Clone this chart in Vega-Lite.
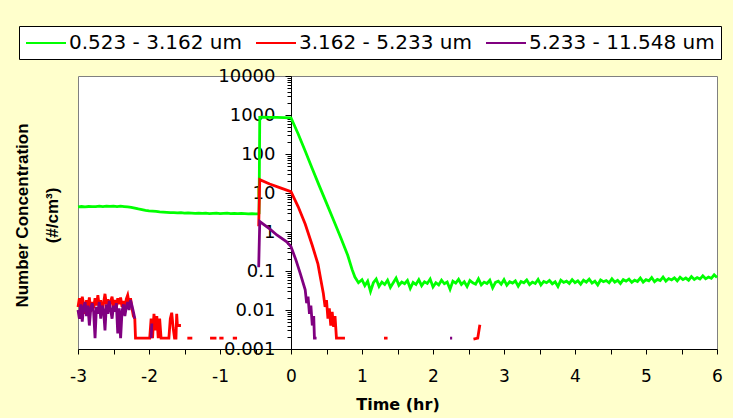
{
"$schema": "https://vega.github.io/schema/vega-lite/v6.json",
"width": 639, "height": 273,
"autosize": {"type": "none"},
"padding": {"left": 78, "top": 76, "right": 16, "bottom": 69},
"background": "#FFFFCC",
"config": {"view": {"stroke": "#808080", "fill": "white", "strokeWidth": 1}, "font": "Liberation Sans"},
"data": {"values": [
{"s":"G","k":"G1","t":-3,"v":4.4},{"s":"G","k":"G1","t":-2.95,"v":4.5},{"s":"G","k":"G1","t":-2.9,"v":4.4},{"s":"G","k":"G1","t":-2.85,"v":4.5},{"s":"G","k":"G1","t":-2.8,"v":4.45},{"s":"G","k":"G1","t":-2.75,"v":4.5},{"s":"G","k":"G1","t":-2.7,"v":4.6},{"s":"G","k":"G1","t":-2.65,"v":4.5},{"s":"G","k":"G1","t":-2.6,"v":4.6},{"s":"G","k":"G1","t":-2.55,"v":4.55},{"s":"G","k":"G1","t":-2.5,"v":4.6},{"s":"G","k":"G1","t":-2.45,"v":4.5},{"s":"G","k":"G1","t":-2.4,"v":4.6},{"s":"G","k":"G1","t":-2.35,"v":4.5},{"s":"G","k":"G1","t":-2.3,"v":4.4},{"s":"G","k":"G1","t":-2.25,"v":4.3},{"s":"G","k":"G1","t":-2.2,"v":4.1},{"s":"G","k":"G1","t":-2.15,"v":3.9},{"s":"G","k":"G1","t":-2.1,"v":3.75},{"s":"G","k":"G1","t":-2.05,"v":3.6},{"s":"G","k":"G1","t":-2,"v":3.5},{"s":"G","k":"G1","t":-1.95,"v":3.45},{"s":"G","k":"G1","t":-1.9,"v":3.4},{"s":"G","k":"G1","t":-1.85,"v":3.3},{"s":"G","k":"G1","t":-1.8,"v":3.25},{"s":"G","k":"G1","t":-1.75,"v":3.2},{"s":"G","k":"G1","t":-1.7,"v":3.15},{"s":"G","k":"G1","t":-1.65,"v":3.15},{"s":"G","k":"G1","t":-1.6,"v":3.1},{"s":"G","k":"G1","t":-1.55,"v":3.15},{"s":"G","k":"G1","t":-1.5,"v":3.05},{"s":"G","k":"G1","t":-1.45,"v":3.1},{"s":"G","k":"G1","t":-1.4,"v":3.05},{"s":"G","k":"G1","t":-1.35,"v":3.0},{"s":"G","k":"G1","t":-1.3,"v":3.05},{"s":"G","k":"G1","t":-1.25,"v":3.0},{"s":"G","k":"G1","t":-1.2,"v":3.05},{"s":"G","k":"G1","t":-1.15,"v":2.95},{"s":"G","k":"G1","t":-1.1,"v":3.0},{"s":"G","k":"G1","t":-1.05,"v":3.05},{"s":"G","k":"G1","t":-1,"v":2.95},{"s":"G","k":"G1","t":-0.95,"v":3.0},{"s":"G","k":"G1","t":-0.9,"v":3.05},{"s":"G","k":"G1","t":-0.85,"v":2.95},{"s":"G","k":"G1","t":-0.8,"v":3.0},{"s":"G","k":"G1","t":-0.75,"v":2.95},{"s":"G","k":"G1","t":-0.7,"v":3.0},{"s":"G","k":"G1","t":-0.65,"v":2.95},{"s":"G","k":"G1","t":-0.6,"v":2.9},{"s":"G","k":"G1","t":-0.55,"v":2.95},{"s":"G","k":"G1","t":-0.5,"v":2.9},{"s":"G","k":"G1","t":-0.46,"v":2.9},{"s":"G","k":"G1","t":-0.45,"v":3.0},{"s":"G","k":"G1","t":-0.44,"v":870},{"s":"G","k":"G1","t":-0.4,"v":880},{"s":"G","k":"G1","t":-0.3,"v":870},{"s":"G","k":"G1","t":-0.2,"v":865},{"s":"G","k":"G1","t":-0.1,"v":860},{"s":"G","k":"G1","t":0,"v":850},{"s":"G","k":"G1","t":0.1,"v":330},{"s":"G","k":"G1","t":0.2,"v":120},{"s":"G","k":"G1","t":0.3,"v":42},{"s":"G","k":"G1","t":0.4,"v":15},{"s":"G","k":"G1","t":0.5,"v":5.5},{"s":"G","k":"G1","t":0.6,"v":2.0},{"s":"G","k":"G1","t":0.7,"v":0.72},{"s":"G","k":"G1","t":0.8,"v":0.25},{"s":"G","k":"G1","t":0.86,"v":0.11},{"s":"G","k":"G1","t":0.9,"v":0.07},{"s":"G","k":"G1","t":0.95,"v":0.05},
{"s":"G","k":"G1","t":1.0,"v":0.06},{"s":"G","k":"G1","t":1.04,"v":0.042},{"s":"G","k":"G1","t":1.08,"v":0.055},{"s":"G","k":"G1","t":1.12,"v":0.03},{"s":"G","k":"G1","t":1.16,"v":0.05},{"s":"G","k":"G1","t":1.2,"v":0.062},{"s":"G","k":"G1","t":1.24,"v":0.04},{"s":"G","k":"G1","t":1.28,"v":0.052},{"s":"G","k":"G1","t":1.32,"v":0.045},{"s":"G","k":"G1","t":1.36,"v":0.058},{"s":"G","k":"G1","t":1.4,"v":0.038},{"s":"G","k":"G1","t":1.44,"v":0.05},{"s":"G","k":"G1","t":1.48,"v":0.066},{"s":"G","k":"G1","t":1.52,"v":0.043},{"s":"G","k":"G1","t":1.56,"v":0.052},{"s":"G","k":"G1","t":1.6,"v":0.047},{"s":"G","k":"G1","t":1.64,"v":0.057},{"s":"G","k":"G1","t":1.68,"v":0.036},{"s":"G","k":"G1","t":1.72,"v":0.051},{"s":"G","k":"G1","t":1.76,"v":0.045},{"s":"G","k":"G1","t":1.8,"v":0.06},{"s":"G","k":"G1","t":1.84,"v":0.042},{"s":"G","k":"G1","t":1.88,"v":0.053},{"s":"G","k":"G1","t":1.92,"v":0.048},{"s":"G","k":"G1","t":1.96,"v":0.062},{"s":"G","k":"G1","t":2.0,"v":0.039},{"s":"G","k":"G1","t":2.04,"v":0.05},{"s":"G","k":"G1","t":2.08,"v":0.044},{"s":"G","k":"G1","t":2.12,"v":0.058},{"s":"G","k":"G1","t":2.16,"v":0.047},{"s":"G","k":"G1","t":2.2,"v":0.052},{"s":"G","k":"G1","t":2.24,"v":0.034},{"s":"G","k":"G1","t":2.28,"v":0.055},{"s":"G","k":"G1","t":2.32,"v":0.049},{"s":"G","k":"G1","t":2.36,"v":0.061},{"s":"G","k":"G1","t":2.4,"v":0.045},{"s":"G","k":"G1","t":2.44,"v":0.053},{"s":"G","k":"G1","t":2.48,"v":0.04},{"s":"G","k":"G1","t":2.52,"v":0.057},{"s":"G","k":"G1","t":2.56,"v":0.05},{"s":"G","k":"G1","t":2.6,"v":0.046},{"s":"G","k":"G1","t":2.64,"v":0.063},{"s":"G","k":"G1","t":2.68,"v":0.044},{"s":"G","k":"G1","t":2.72,"v":0.052},{"s":"G","k":"G1","t":2.76,"v":0.048},{"s":"G","k":"G1","t":2.8,"v":0.058},{"s":"G","k":"G1","t":2.84,"v":0.037},{"s":"G","k":"G1","t":2.88,"v":0.051},{"s":"G","k":"G1","t":2.92,"v":0.055},{"s":"G","k":"G1","t":2.96,"v":0.046},{"s":"G","k":"G1","t":3.0,"v":0.06},{"s":"G","k":"G1","t":3.04,"v":0.043},{"s":"G","k":"G1","t":3.08,"v":0.053},{"s":"G","k":"G1","t":3.12,"v":0.049},{"s":"G","k":"G1","t":3.16,"v":0.056},{"s":"G","k":"G1","t":3.2,"v":0.041},{"s":"G","k":"G1","t":3.24,"v":0.054},{"s":"G","k":"G1","t":3.28,"v":0.05},{"s":"G","k":"G1","t":3.32,"v":0.059},{"s":"G","k":"G1","t":3.36,"v":0.045},{"s":"G","k":"G1","t":3.4,"v":0.052},{"s":"G","k":"G1","t":3.44,"v":0.048},{"s":"G","k":"G1","t":3.48,"v":0.061},{"s":"G","k":"G1","t":3.52,"v":0.044},{"s":"G","k":"G1","t":3.56,"v":0.054},{"s":"G","k":"G1","t":3.6,"v":0.05},{"s":"G","k":"G1","t":3.64,"v":0.057},{"s":"G","k":"G1","t":3.68,"v":0.047},{"s":"G","k":"G1","t":3.72,"v":0.053},{"s":"G","k":"G1","t":3.76,"v":0.04},{"s":"G","k":"G1","t":3.8,"v":0.058},{"s":"G","k":"G1","t":3.84,"v":0.051},{"s":"G","k":"G1","t":3.88,"v":0.055},{"s":"G","k":"G1","t":3.92,"v":0.048},{"s":"G","k":"G1","t":3.96,"v":0.06},{"s":"G","k":"G1","t":4.0,"v":0.05},{"s":"G","k":"G1","t":4.04,"v":0.056},{"s":"G","k":"G1","t":4.08,"v":0.046},{"s":"G","k":"G1","t":4.12,"v":0.058},{"s":"G","k":"G1","t":4.16,"v":0.052},{"s":"G","k":"G1","t":4.2,"v":0.062},{"s":"G","k":"G1","t":4.24,"v":0.049},{"s":"G","k":"G1","t":4.28,"v":0.055},{"s":"G","k":"G1","t":4.32,"v":0.044},{"s":"G","k":"G1","t":4.36,"v":0.059},{"s":"G","k":"G1","t":4.4,"v":0.053},{"s":"G","k":"G1","t":4.44,"v":0.057},{"s":"G","k":"G1","t":4.48,"v":0.05},{"s":"G","k":"G1","t":4.52,"v":0.063},{"s":"G","k":"G1","t":4.56,"v":0.052},{"s":"G","k":"G1","t":4.6,"v":0.058},{"s":"G","k":"G1","t":4.64,"v":0.048},{"s":"G","k":"G1","t":4.68,"v":0.06},{"s":"G","k":"G1","t":4.72,"v":0.055},{"s":"G","k":"G1","t":4.76,"v":0.062},{"s":"G","k":"G1","t":4.8,"v":0.051},{"s":"G","k":"G1","t":4.84,"v":0.058},{"s":"G","k":"G1","t":4.88,"v":0.054},{"s":"G","k":"G1","t":4.92,"v":0.066},{"s":"G","k":"G1","t":4.96,"v":0.052},{"s":"G","k":"G1","t":5.0,"v":0.06},{"s":"G","k":"G1","t":5.04,"v":0.056},{"s":"G","k":"G1","t":5.08,"v":0.068},{"s":"G","k":"G1","t":5.12,"v":0.053},{"s":"G","k":"G1","t":5.16,"v":0.061},{"s":"G","k":"G1","t":5.2,"v":0.057},{"s":"G","k":"G1","t":5.24,"v":0.07},{"s":"G","k":"G1","t":5.28,"v":0.055},{"s":"G","k":"G1","t":5.32,"v":0.064},{"s":"G","k":"G1","t":5.36,"v":0.059},{"s":"G","k":"G1","t":5.4,"v":0.067},{"s":"G","k":"G1","t":5.44,"v":0.056},{"s":"G","k":"G1","t":5.48,"v":0.069},{"s":"G","k":"G1","t":5.52,"v":0.06},{"s":"G","k":"G1","t":5.56,"v":0.066},{"s":"G","k":"G1","t":5.6,"v":0.058},{"s":"G","k":"G1","t":5.64,"v":0.072},{"s":"G","k":"G1","t":5.68,"v":0.061},{"s":"G","k":"G1","t":5.72,"v":0.068},{"s":"G","k":"G1","t":5.76,"v":0.062},{"s":"G","k":"G1","t":5.8,"v":0.075},{"s":"G","k":"G1","t":5.84,"v":0.063},{"s":"G","k":"G1","t":5.88,"v":0.07},{"s":"G","k":"G1","t":5.92,"v":0.065},{"s":"G","k":"G1","t":5.96,"v":0.08},{"s":"G","k":"G1","t":6.0,"v":0.068},
{"s":"R","k":"R1","t":-3,"v":0.012},{"s":"R","k":"R1","t":-2.98,"v":0.02},{"s":"R","k":"R1","t":-2.96,"v":0.01},{"s":"R","k":"R1","t":-2.94,"v":0.022},{"s":"R","k":"R1","t":-2.92,"v":0.014},{"s":"R","k":"R1","t":-2.9,"v":0.008},{"s":"R","k":"R1","t":-2.88,"v":0.018},{"s":"R","k":"R1","t":-2.86,"v":0.012},{"s":"R","k":"R1","t":-2.84,"v":0.021},{"s":"R","k":"R1","t":-2.82,"v":0.009},{"s":"R","k":"R1","t":-2.8,"v":0.016},{"s":"R","k":"R1","t":-2.78,"v":0.011},{"s":"R","k":"R1","t":-2.76,"v":0.02},{"s":"R","k":"R1","t":-2.74,"v":0.013},{"s":"R","k":"R1","t":-2.72,"v":0.024},{"s":"R","k":"R1","t":-2.7,"v":0.012},{"s":"R","k":"R1","t":-2.68,"v":0.018},{"s":"R","k":"R1","t":-2.66,"v":0.008},{"s":"R","k":"R1","t":-2.64,"v":0.015},{"s":"R","k":"R1","t":-2.62,"v":0.026},{"s":"R","k":"R1","t":-2.6,"v":0.014},{"s":"R","k":"R1","t":-2.58,"v":0.019},{"s":"R","k":"R1","t":-2.56,"v":0.01},{"s":"R","k":"R1","t":-2.54,"v":0.017},{"s":"R","k":"R1","t":-2.52,"v":0.022},{"s":"R","k":"R1","t":-2.5,"v":0.012},{"s":"R","k":"R1","t":-2.48,"v":0.018},{"s":"R","k":"R1","t":-2.46,"v":0.011},{"s":"R","k":"R1","t":-2.44,"v":0.02},{"s":"R","k":"R1","t":-2.42,"v":0.014},{"s":"R","k":"R1","t":-2.4,"v":0.021},{"s":"R","k":"R1","t":-2.38,"v":0.012},{"s":"R","k":"R1","t":-2.36,"v":0.017},{"s":"R","k":"R1","t":-2.34,"v":0.01},{"s":"R","k":"R1","t":-2.32,"v":0.019},{"s":"R","k":"R1","t":-2.3,"v":0.024},{"s":"R","k":"R1","t":-2.28,"v":0.015},{"s":"R","k":"R1","t":-2.26,"v":0.02},{"s":"R","k":"R1","t":-2.24,"v":0.011},{"s":"R","k":"R1","t":-2.22,"v":0.007},{"s":"R","k":"R1","t":-2.2,"v":0.006},{"s":"R","k":"R1","t":-2.19,"v":0.0019},{"s":"R","k":"R1","t":-2.1,"v":0.0019},{"s":"R","k":"R1","t":-1.99,"v":0.0019},{"s":"R","k":"R1","t":-1.97,"v":0.006},{"s":"R","k":"R1","t":-1.95,"v":0.0019},{"s":"R","k":"R1","t":-1.93,"v":0.008},{"s":"R","k":"R1","t":-1.91,"v":0.003},{"s":"R","k":"R1","t":-1.89,"v":0.007},{"s":"R","k":"R1","t":-1.87,"v":0.0019},{"s":"R","k":"R1","t":-1.85,"v":0.006},{"s":"R","k":"R1","t":-1.83,"v":0.0019},{"s":"R","k":"R1","t":-1.8,"v":0.0019},{"s":"R","k":"R1","t":-1.76,"v":0.0019},{"s":"R","k":"R1","t":-1.72,"v":0.0019},{"s":"R","k":"R1","t":-1.7,"v":0.006},{"s":"R","k":"R1","t":-1.68,"v":0.0085},{"s":"R","k":"R1","t":-1.66,"v":0.0035},{"s":"R","k":"R1","t":-1.64,"v":0.0019},{"s":"R","k":"R1","t":-1.62,"v":0.0019},{"s":"R","k":"R1","t":-1.61,"v":0.008},{"s":"R","k":"R1","t":-1.6,"v":0.004},{"s":"R","k":"R1","t":-1.55,"v":0.004},
{"s":"R","k":"R2","t":-1.46,"v":0.0019},{"s":"R","k":"R2","t":-1.39,"v":0.0019},
{"s":"R","k":"R3","t":-1.14,"v":0.0019},{"s":"R","k":"R3","t":-1.05,"v":0.0019},
{"s":"R","k":"R4","t":-1.01,"v":0.0019},{"s":"R","k":"R4","t":-0.95,"v":0.0019},
{"s":"R","k":"R5","t":-0.82,"v":0.0019},{"s":"R","k":"R5","t":-0.76,"v":0.0019},
{"s":"R","k":"R6","t":-0.455,"v":1.4},{"s":"R","k":"R6","t":-0.44,"v":22},{"s":"R","k":"R6","t":-0.3,"v":17},{"s":"R","k":"R6","t":-0.15,"v":13.5},{"s":"R","k":"R6","t":0,"v":10.8},{"s":"R","k":"R6","t":0.05,"v":7},{"s":"R","k":"R6","t":0.1,"v":4.5},{"s":"R","k":"R6","t":0.2,"v":1.6},{"s":"R","k":"R6","t":0.3,"v":0.45},{"s":"R","k":"R6","t":0.38,"v":0.15},{"s":"R","k":"R6","t":0.42,"v":0.06},{"s":"R","k":"R6","t":0.455,"v":0.027},{"s":"R","k":"R6","t":0.48,"v":0.012},{"s":"R","k":"R6","t":0.5,"v":0.018},{"s":"R","k":"R6","t":0.52,"v":0.006},{"s":"R","k":"R6","t":0.54,"v":0.011},{"s":"R","k":"R6","t":0.56,"v":0.004},{"s":"R","k":"R6","t":0.58,"v":0.009},{"s":"R","k":"R6","t":0.6,"v":0.0037},{"s":"R","k":"R6","t":0.62,"v":0.007},{"s":"R","k":"R6","t":0.64,"v":0.0019},{"s":"R","k":"R6","t":0.7,"v":0.0019},{"s":"R","k":"R6","t":0.76,"v":0.0019},
{"s":"R","k":"R7","t":1.31,"v":0.0019},{"s":"R","k":"R7","t":1.36,"v":0.0019},
{"s":"R","k":"R8","t":2.57,"v":0.0018},{"s":"R","k":"R8","t":2.63,"v":0.0019},{"s":"R","k":"R8","t":2.66,"v":0.0042},
{"s":"P","k":"P1","t":-3,"v":0.01},{"s":"P","k":"P1","t":-2.98,"v":0.006},{"s":"P","k":"P1","t":-2.96,"v":0.014},{"s":"P","k":"P1","t":-2.94,"v":0.005},{"s":"P","k":"P1","t":-2.92,"v":0.012},{"s":"P","k":"P1","t":-2.9,"v":0.016},{"s":"P","k":"P1","t":-2.88,"v":0.007},{"s":"P","k":"P1","t":-2.86,"v":0.013},{"s":"P","k":"P1","t":-2.84,"v":0.004},{"s":"P","k":"P1","t":-2.82,"v":0.011},{"s":"P","k":"P1","t":-2.8,"v":0.015},{"s":"P","k":"P1","t":-2.78,"v":0.009},{"s":"P","k":"P1","t":-2.76,"v":0.0019},{"s":"P","k":"P1","t":-2.74,"v":0.012},{"s":"P","k":"P1","t":-2.72,"v":0.008},{"s":"P","k":"P1","t":-2.7,"v":0.016},{"s":"P","k":"P1","t":-2.68,"v":0.006},{"s":"P","k":"P1","t":-2.66,"v":0.013},{"s":"P","k":"P1","t":-2.64,"v":0.01},{"s":"P","k":"P1","t":-2.62,"v":0.003},{"s":"P","k":"P1","t":-2.6,"v":0.014},{"s":"P","k":"P1","t":-2.58,"v":0.008},{"s":"P","k":"P1","t":-2.56,"v":0.017},{"s":"P","k":"P1","t":-2.54,"v":0.01},{"s":"P","k":"P1","t":-2.52,"v":0.006},{"s":"P","k":"P1","t":-2.5,"v":0.013},{"s":"P","k":"P1","t":-2.48,"v":0.009},{"s":"P","k":"P1","t":-2.46,"v":0.015},{"s":"P","k":"P1","t":-2.44,"v":0.0025},{"s":"P","k":"P1","t":-2.42,"v":0.011},{"s":"P","k":"P1","t":-2.4,"v":0.0019},{"s":"P","k":"P1","t":-2.38,"v":0.009},{"s":"P","k":"P1","t":-2.36,"v":0.014},{"s":"P","k":"P1","t":-2.34,"v":0.007},{"s":"P","k":"P1","t":-2.32,"v":0.012},{"s":"P","k":"P1","t":-2.3,"v":0.016},{"s":"P","k":"P1","t":-2.28,"v":0.01},{"s":"P","k":"P1","t":-2.26,"v":0.018},{"s":"P","k":"P1","t":-2.24,"v":0.013},{"s":"P","k":"P1","t":-2.22,"v":0.009},{"s":"P","k":"P1","t":-2.2,"v":0.006},
{"s":"P","k":"P2","t":-1.97,"v":0.0019},{"s":"P","k":"P2","t":-1.96,"v":0.0045},
{"s":"P","k":"P3","t":-0.455,"v":0.125},{"s":"P","k":"P3","t":-0.44,"v":1.85},{"s":"P","k":"P3","t":-0.3,"v":1.2},{"s":"P","k":"P3","t":-0.2,"v":0.84},{"s":"P","k":"P3","t":-0.06,"v":0.56},{"s":"P","k":"P3","t":0,"v":0.42},{"s":"P","k":"P3","t":0.07,"v":0.19},{"s":"P","k":"P3","t":0.13,"v":0.087},{"s":"P","k":"P3","t":0.2,"v":0.033},{"s":"P","k":"P3","t":0.22,"v":0.015},{"s":"P","k":"P3","t":0.24,"v":0.022},{"s":"P","k":"P3","t":0.26,"v":0.008},{"s":"P","k":"P3","t":0.28,"v":0.013},{"s":"P","k":"P3","t":0.3,"v":0.004},{"s":"P","k":"P3","t":0.32,"v":0.007},{"s":"P","k":"P3","t":0.33,"v":0.0019},{"s":"P","k":"P3","t":0.36,"v":0.0019},
{"s":"P","k":"P4","t":2.24,"v":0.0019},{"s":"P","k":"P4","t":2.27,"v":0.0019}
]},
"mark": {"type": "line", "strokeWidth": 2.8},
"encoding": {
  "x": {"field": "t", "type": "quantitative",
    "scale": {"domain": [-3, 6], "nice": false, "zero": false},
    "axis": {"title": "Time (hr)", "values": [-3,-2.5,-2,-1.5,-1,-0.5,0,0.5,1,1.5,2,2.5,3,3.5,4,4.5,5,5.5,6],
      "labelExpr": "datum.value % 1 === 0 ? '' + datum.value : ''",
      "labelFlush": false, "labelOverlap": false, "labelBound": false, "grid": false,
      "domainColor": "black", "tickColor": "black", "tickSize": 5,
      "labelFont": "DejaVu Sans", "labelFontSize": 17, "labelColor": "black", "labelPadding": 14,
      "titleFont": "DejaVu Sans", "titleFontSize": 16, "titleFontWeight": "bold", "titleColor": "black", "titlePadding": 12}},
  "y": {"field": "v", "type": "quantitative",
    "scale": {"type": "log", "domain": [0.001, 10000], "nice": false},
    "axis": {"orient": "left", "offset": -213,
      "values": [0.001,0.002,0.003,0.004,0.005,0.006,0.007,0.008,0.009,0.01,0.02,0.03,0.04,0.05,0.06,0.07,0.08,0.09,0.1,0.2,0.3,0.4,0.5,0.6,0.7,0.8,0.9,1,2,3,4,5,6,7,8,9,10,20,30,40,50,60,70,80,90,100,200,300,400,500,600,700,800,900,1000,2000,3000,4000,5000,6000,7000,8000,9000,10000],
      "format": ".3~f",
      "labelExpr": "indexof([0.001,0.01,0.1,1,10,100,1000,10000], datum.value) >= 0 ? datum.label : ''",
      "tickSize": {"condition": {"test": "indexof([0.001,0.01,0.1,1,10,100,1000,10000], datum.value) >= 0", "value": 6}, "value": 4},
      "labelOverlap": false, "labelBound": false, "labelFlush": false, "grid": false,
      "domainColor": "black", "tickColor": "black",
      "labelFont": "DejaVu Sans", "labelFontSize": 18, "labelColor": "black", "labelPadding": 10,
      "title": ["Number Concentration", "(#/cm³)"],
      "titleFont": "Liberation Sans", "titleFontSize": 17, "titleFontWeight": "bold", "titleColor": "black",
      "titleX": -264, "titleY": 139, "titleAngle": 270, "titleAlign": "center", "titleBaseline": "alphabetic", "titleLineHeight": 30}},
  "color": {"field": "s", "type": "nominal",
    "scale": {"domain": ["G", "R", "P"], "range": ["#00FF00", "#FF0000", "#800080"]},
    "legend": {"orient": "none", "legendX": -59, "legendY": -50, "direction": "horizontal", "title": null,
      "fillColor": "white", "strokeColor": "black", "padding": 6,
      "symbolType": "M-2,0L2,0", "symbolSize": 400, "symbolStrokeWidth": 2, "symbolOffset": 10,
      "labelOffset": 12, "columnPadding": 10, "labelLimit": 0,
      "labelFont": "DejaVu Sans", "labelFontSize": 20, "labelColor": "black",
      "labelExpr": "datum.value == 'G' ? '0.523 - 3.162 um' : datum.value == 'R' ? '3.162 - 5.233 um' : '5.233 - 11.548 um'"}},
  "detail": {"field": "k"}
}
}
